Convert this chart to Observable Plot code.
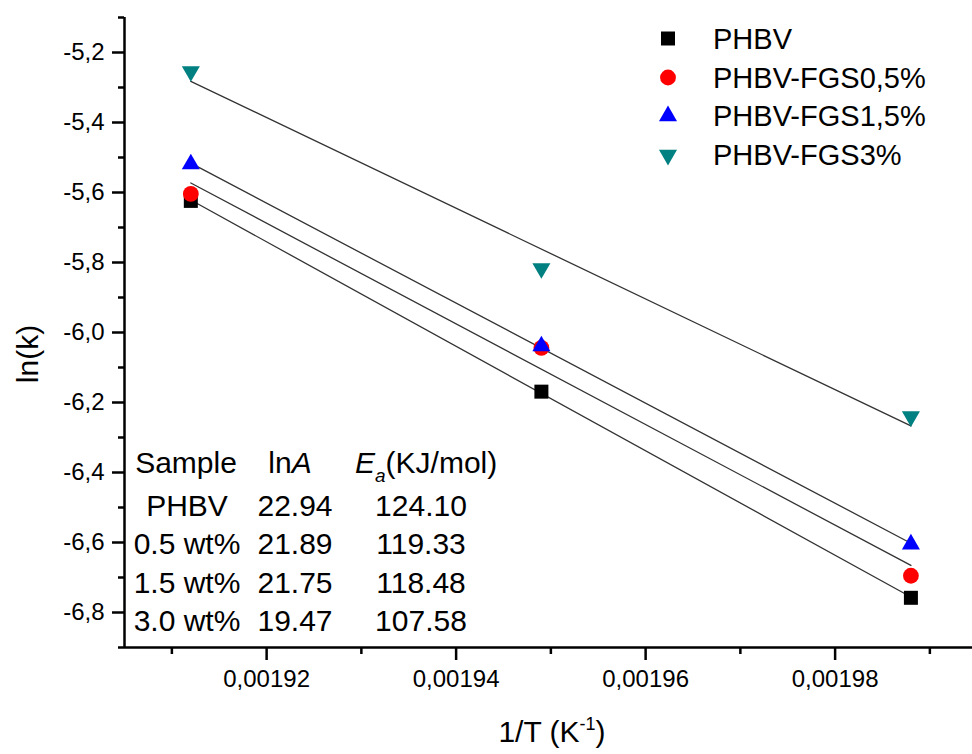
<!DOCTYPE html>
<html><head><meta charset="utf-8">
<script src="https://cdn.jsdelivr.net/npm/d3@7"></script>
<script src="https://cdn.jsdelivr.net/npm/@observablehq/plot@0.6"></script>
<style>
body{margin:0;background:#fff;font-family:"Liberation Sans",Arial,sans-serif;}
#wrap{position:relative;width:972px;height:754px;}
#overlay{position:absolute;left:0;top:0;pointer-events:none;}
</style>
</head><body><div id="wrap"></div>
<script>
// ---- data ----
const invT = [0.001912, 0.001949, 0.001988];
const seriesNames = ["PHBV", "PHBV-FGS0,5%", "PHBV-FGS1,5%", "PHBV-FGS3%"];
const lnk_PHBV = [-5.624, -6.169, -6.758];
const lnk_FGS05 = [-5.604, -6.044, -6.695];
const lnk_FGS15 = [-5.519, -6.039, -6.605];
const lnk_FGS3 = [-5.254, -5.817, -6.240];
const seriesValues = [lnk_PHBV, lnk_FGS05, lnk_FGS15, lnk_FGS3];
const colors = ["#000000", "#ff0000", "#0000ff", "#008080"];
const symbols = ["square", "circle", "triangle", "triangle"];
const rotations = [0, 0, 0, 180];
const radii = [7.9, 7.9, 6.7, 6.7];

const tableSamples = ["PHBV", "0.5 wt%", "1.5 wt%", "3.0 wt%"];
const tableLnA = ["22.94", "21.89", "21.75", "19.47"];
const tableEa = ["124.10", "119.33", "118.48", "107.58"];

const xDomain = [0.001905, 0.0019945];
const yDomain = [-6.9, -5.1];
const xMajor = [0.00192, 0.00194, 0.00196, 0.00198];
const xMinor = [0.00191, 0.00193, 0.00195, 0.00197, 0.00199];
const yMajor = [-5.2, -5.4, -5.6, -5.8, -6.0, -6.2, -6.4, -6.6, -6.8];
const yMinor = [-5.1, -5.3, -5.5, -5.7, -5.9, -6.1, -6.3, -6.5, -6.7, -6.9];

// ---- build ----
const rows = seriesNames.map((name, i) => invT.map((x, j) => ({series: name, x, y: seriesValues[i][j]})));

const fmtY = d => d.toFixed(1).replace(".", ",");
const fmtX = d => d.toFixed(5).replace(".", ",");

const marks = [
  Plot.axisX({ticks: xMajor, tickSize: 13, tickPadding: 9, tickFormat: fmtX, strokeWidth: 2.5, label: null, fontSize: 24}),
  Plot.axisX({ticks: xMinor, tickSize: 7, strokeWidth: 2.5, text: null, label: null}),
  Plot.axisY({ticks: yMajor, tickSize: 12, tickPadding: 8, tickFormat: fmtY, strokeWidth: 2.5, label: null, fontSize: 24}),
  Plot.axisY({ticks: yMinor, tickSize: 6, strokeWidth: 2.5, text: null, label: null}),
  Plot.ruleX([xDomain[0]], {strokeWidth: 2.5}),
  Plot.ruleY([yDomain[0]], {strokeWidth: 2.5})
];
rows.forEach((data, i) => {
  marks.push(Plot.linearRegressionY(data, {x: "x", y: "y", ci: 0, stroke: "#333", strokeWidth: 1.3}));
});
rows.forEach((data, i) => {
  marks.push(Plot.dot(data, {x: "x", y: "y", symbol: () => symbols[i], r: radii[i], fill: colors[i], stroke: "none", rotate: rotations[i]}));
});

const chart = Plot.plot({
  width: 972, height: 754,
  marginLeft: 124, marginRight: 0, marginTop: 17, marginBottom: 107,
  x: {domain: xDomain},
  y: {domain: yDomain},
  symbol: {type: "identity"},
  style: {fontFamily: "'Liberation Sans', Arial, sans-serif", fontSize: "24px", color: "#000", background: "#fff"},
  marks
});
chart.querySelectorAll("text").forEach(t => { t.style.fontSize = "24px"; t.style.fontFamily = "'Liberation Sans', Arial, sans-serif"; });
const wrap = document.getElementById("wrap");
wrap.appendChild(chart);

// ---- overlay: legend, table, axis labels ----
const svg = d3.select(wrap).append("svg").attr("id", "overlay")
  .attr("width", 972).attr("height", 754)
  .style("font-family", "'Liberation Sans', Arial, sans-serif");

const legRowY = [38.5, 77.5, 116, 155];
const symMap = {square: d3.symbolSquare, circle: d3.symbolCircle, triangle: d3.symbolTriangle};
seriesNames.forEach((name, i) => {
  const g = svg.append("g").attr("transform", `translate(668,${legRowY[i]})`);
  g.append("path")
    .attr("d", d3.symbol(symMap[symbols[i]], Math.PI * radii[i] * radii[i])())
    .attr("transform", `rotate(${rotations[i]})`)
    .attr("fill", colors[i]);
  g.append("text").attr("x", 45).attr("y", 10.4).attr("font-size", 29).attr("fill", "#000").text(name);
});

// table
const tblFont = 30;
const rowCenters = [505, 543, 582, 620];
const headY = 462 + 10.7;
svg.append("text").attr("x", 186).attr("y", headY).attr("text-anchor", "middle").attr("font-size", tblFont).text("Sample");
const hA = svg.append("text").attr("x", 290).attr("y", headY).attr("text-anchor", "middle").attr("font-size", tblFont);
hA.append("tspan").text("ln");
hA.append("tspan").attr("font-style", "italic").text("A");
const hE = svg.append("text").attr("x", 355).attr("y", headY).attr("font-size", tblFont);
hE.append("tspan").attr("font-style", "italic").text("E");
hE.append("tspan").attr("font-style", "italic").attr("font-size", 19).attr("dy", 9).text("a");
hE.append("tspan").attr("dy", -9).text("(KJ/mol)");
tableSamples.forEach((s, i) => {
  const y = rowCenters[i] + 10.7;
  svg.append("text").attr("x", 187).attr("y", y).attr("text-anchor", "middle").attr("font-size", tblFont).text(s);
  svg.append("text").attr("x", 295).attr("y", y).attr("text-anchor", "middle").attr("font-size", tblFont).text(tableLnA[i]);
  svg.append("text").attr("x", 421).attr("y", y).attr("text-anchor", "middle").attr("font-size", tblFont).text(tableEa[i]);
});

// axis labels
const xl = svg.append("text").attr("x", 552).attr("y", 742).attr("text-anchor", "middle").attr("font-size", 30);
xl.append("tspan").text("1/T (K");
xl.append("tspan").attr("font-size", 18).attr("dy", -12).text("-1");
xl.append("tspan").attr("dy", 12).text(")");
svg.append("text").attr("transform", "translate(38,354) rotate(-90)").attr("text-anchor", "middle").attr("font-size", 30).text("ln(k)");
</script>
</body></html>
